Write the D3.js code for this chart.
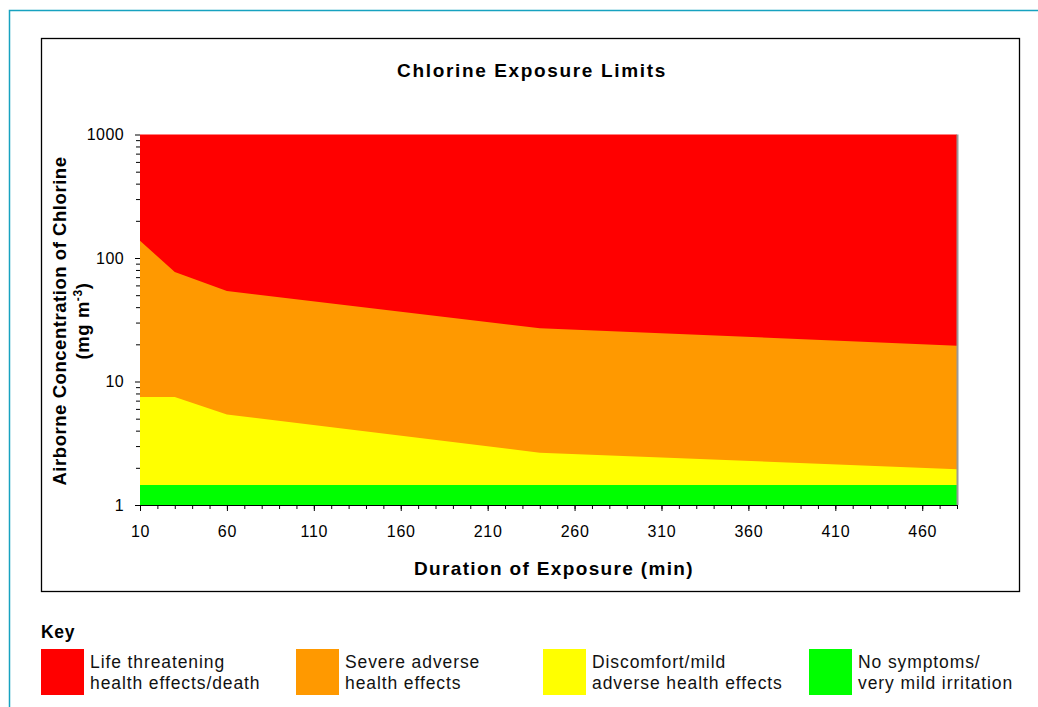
<!DOCTYPE html>
<html>
<head>
<meta charset="utf-8">
<script src="https://cdn.jsdelivr.net/npm/d3@7"></script>
<style>
  body { margin: 0; background: #fff; }
  text { font-family: "Liberation Sans", Arial, sans-serif; }
</style>
</head>
<body>
<svg id="chart" width="1038" height="707"></svg>
<script>
// exposure durations (min) where the limits are given
const durations = [10, 30, 60, 240, 480]
// upper edge of each band, mg m-3
const lifeThreat = [1000, 1000, 1000, 1000, 1000]
const severe = [138, 77, 54, 27, 19.5]
const discomfort = [7.5, 7.5, 5.4, 2.65, 1.95]
const noSymptoms = [1.45, 1.45, 1.45, 1.45, 1.45]

const xLabelTicks = [10, 60, 110, 160, 210, 260, 310, 360, 410, 460]
const yLabelTicks = [1, 10, 100, 1000]

const keyLabels = [
  ["Life threatening", "health effects/death"],
  ["Severe adverse", "health effects"],
  ["Discomfort/mild", "adverse health effects"],
  ["No symptoms/", "very mild irritation"]
]
const colors = ["#ff0000", "#ff9900", "#ffff00", "#00ff00"]

const svg = d3.select("#chart")

// outer frame (teal) and chart box
svg.append("path")
   .attr("d", "M9.5,707 L9.5,10.5 L1038,10.5")
   .attr("fill", "none")
   .attr("stroke", "#17a2c0")
   .attr("stroke-width", 1.5)

svg.append("rect")
   .attr("x", 41.5).attr("y", 38.5)
   .attr("width", 978).attr("height", 553)
   .attr("fill", "none")
   .attr("stroke", "#000")
   .attr("stroke-width", 1.3)

const x = d3.scaleLinear().domain([10, 480]).range([140, 957])
const y = d3.scaleLog().domain([1, 1000]).range([505, 134.5])

const bands = [lifeThreat, severe, discomfort, noSymptoms]

const area = d3.area()
               .x(d => x(d.t))
               .y0(y(1))
               .y1(d => y(d.v))

const plot = svg.append("g")

bands.forEach((vals, i) => {
  const rows = durations.map((t, j) => ({ t: t, v: vals[j] }))
  plot.append("path")
      .datum(rows)
      .attr("fill", colors[i])
      .attr("d", area)
})

// right edge of plot area
svg.append("line")
   .attr("x1", 957.5).attr("x2", 957.5)
   .attr("y1", y(1000)).attr("y2", y(1))
   .attr("stroke", "#999")
   .attr("stroke-width", 2)

// x axis
const xMinor = d3.range(10, 481, 10)
const xAxisG = svg.append("g").attr("transform", "translate(0," + y(1) + ")")

xAxisG.call(d3.axisBottom(x).tickValues(xMinor).tickSize(4).tickSizeOuter(0).tickFormat(""))
xAxisG.select(".domain").attr("stroke", "#000")

const xLab = svg.append("g").attr("transform", "translate(0," + y(1) + ")")
                .call(d3.axisBottom(x).tickValues(xLabelTicks).tickSize(6).tickFormat(d3.format("d")))
xLab.select(".domain").remove()
xLab.selectAll("text")
    .attr("y", 32).attr("dy", 0)
    .attr("font-size", 16)
    .attr("letter-spacing", 0.7)
    .attr("fill", "#000")
    .style("font-family", "'Liberation Sans', Arial, sans-serif")

// y axis
const yMinor = []
yLabelTicks.slice(0, 3).forEach(dec => {
  for (let k = 2; k <= 9; k++) yMinor.push(dec * k)
})

const yAxisG = svg.append("g").attr("transform", "translate(" + x(10) + ",0)")
yAxisG.call(d3.axisLeft(y).tickValues(yMinor).tickSize(4).tickFormat(""))
yAxisG.select(".domain").remove()

const yLab = svg.append("g").attr("transform", "translate(" + x(10) + ",0)")
                .call(d3.axisLeft(y).tickValues(yLabelTicks).tickSize(5).tickPadding(11).tickFormat(d3.format("d")))
yLab.select(".domain").remove()
yLab.selectAll("text")
    .attr("font-size", 16)
    .attr("letter-spacing", 0.4)
    .attr("fill", "#000")
    .style("font-family", "'Liberation Sans', Arial, sans-serif")

// titles
svg.append("text")
   .attr("x", 532).attr("y", 77)
   .attr("text-anchor", "middle")
   .attr("font-size", 19)
   .attr("letter-spacing", 1.65)
   .attr("font-weight", "bold")
   .text("Chlorine Exposure Limits")

svg.append("text")
   .attr("x", 554).attr("y", 575)
   .attr("text-anchor", "middle")
   .attr("font-size", 19)
   .attr("letter-spacing", 1.35)
   .attr("font-weight", "bold")
   .text("Duration of Exposure (min)")

const yTitle = svg.append("text")
   .attr("transform", "translate(66,321) rotate(-90)")
   .attr("text-anchor", "middle")
   .attr("font-size", 18.5)
   .attr("letter-spacing", 0.55)
   .attr("font-weight", "bold")

yTitle.append("tspan").attr("x", 0).attr("y", 0).text("Airborne Concentration of Chlorine")
const line2 = yTitle.append("tspan").attr("x", 0).attr("y", 23)
line2.append("tspan").text("(mg m")
line2.append("tspan").attr("dy", -7).attr("font-size", 12).text("-3")
line2.append("tspan").attr("dy", 7).text(")")

// key
svg.append("text")
   .attr("x", 41).attr("y", 638)
   .attr("font-size", 17.5)
   .attr("letter-spacing", 0.7)
   .attr("font-weight", "bold")
   .text("Key")

const keyX = [41, 296, 543, 809]

keyLabels.forEach((lines, i) => {
  svg.append("rect")
     .attr("x", keyX[i]).attr("y", 649)
     .attr("width", 43).attr("height", 46)
     .attr("fill", colors[i])
  const t = svg.append("text")
               .attr("font-size", 17.5)
               .attr("letter-spacing", 0.9)
               .attr("fill", "#111")
  lines.forEach((s, j) => {
    t.append("tspan")
     .attr("x", keyX[i] + 49)
     .attr("y", 668 + j * 20.5)
     .text(s)
  })
})
</script>
</body>
</html>
